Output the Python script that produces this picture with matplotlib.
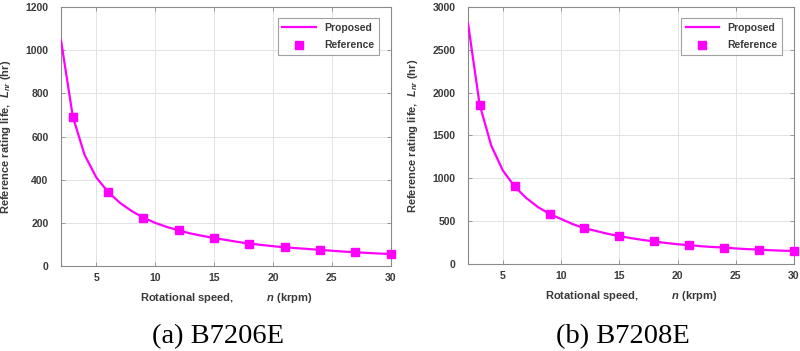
import numpy as np
import matplotlib
matplotlib.use("Agg")
import matplotlib.pyplot as plt

plt.rcParams['font.family'] = ['Liberation Sans', 'DejaVu Sans']
plt.rcParams['mathtext.fontset'] = 'custom'
plt.rcParams['mathtext.rm'] = 'Liberation Sans:bold'
plt.rcParams['mathtext.it'] = 'Liberation Sans:italic:bold'

# kecepatan putar (krpm)
n_proposed = list(range(2, 31))
n_reference = [3, 6, 9, 12, 15, 18, 21, 24, 27, 30]

# B7206E
life_a_proposed = [1045, 692, 515, 410, 343, 293, 255, 224, 200, 181, 165, 151, 140, 130,
                   121, 112, 104, 98, 92, 87, 83, 79, 75, 71, 67, 64, 61, 58, 56]
life_a_reference = [692, 343, 224, 165, 130, 104, 87, 74, 64, 56]

# B7208E
life_b_proposed = [2810, 1860, 1380, 1090, 905, 770, 665, 585, 525, 465, 418, 385, 352, 325,
                   302, 280, 263, 245, 230, 220, 207, 198, 192, 181, 173, 168, 160, 155, 152]
life_b_reference = [1860, 905, 585, 418, 325, 263, 220, 192, 168, 152]

xticks = [5, 10, 15, 20, 25, 30]
yticks_a = [0, 200, 400, 600, 800, 1000, 1200]
yticks_b = [0, 500, 1000, 1500, 2000, 2500, 3000]

txt = '#3a3a3a'
magenta = '#ff00ff'

fig = plt.figure(figsize=(8, 3.51), dpi=100)
ax1 = fig.add_axes([0.0763, 0.242, 0.412, 0.738])
ax2 = fig.add_axes([0.585, 0.248, 0.4075, 0.732])

panels = [(ax1, life_a_proposed, life_a_reference, yticks_a, '(a) B7206E', 0.272),
          (ax2, life_b_proposed, life_b_reference, yticks_b, '(b) B7208E', 0.778)]

for ax, prop, ref, yt, caption, cx in panels:
    ax.plot(n_proposed, prop, color=magenta, lw=1.6, label='Proposed', zorder=3)
    ax.plot(n_reference, ref, ls='none', marker='s', ms=5.5, color=magenta,
            label='Reference', zorder=4, clip_on=False)
    ax.set_xlim(2, 30)
    ax.set_ylim(yt[0], yt[-1])
    ax.set_xticks(xticks)
    ax.set_yticks(yt)
    ax.grid(True, color='#e3e3e3', lw=0.7)
    ax.set_axisbelow(True)
    for s in ax.spines.values():
        s.set_color('#8a8a8a')
        s.set_linewidth(0.8)
    ax.tick_params(direction='in', length=3, width=0.6, color='#8a8a8a',
                   top=True, right=True, labelsize=7.5, labelcolor=txt)
    ax.tick_params(axis='x', pad=5)
    ax.tick_params(axis='y', pad=9)
    for lab in ax.get_xticklabels() + ax.get_yticklabels():
        lab.set_fontweight('bold')
    ax.set_xlabel('Rotational speed,           $n$ (krpm)', fontsize=8, fontweight='bold',
                  color=txt, labelpad=6)
    ax.set_ylabel('Reference rating life,  $L_{nr}$ (hr)', fontsize=8, fontweight='bold',
                  color=txt, labelpad=9)
    leg = ax.legend(loc='upper right', fontsize=7.5, frameon=True, fancybox=False,
                    edgecolor='#8a8a8a', borderpad=0.45, handlelength=3.2,
                    labelspacing=0.75, bbox_to_anchor=(0.98, 0.978))
    leg.get_frame().set_linewidth(0.8)
    for t in leg.get_texts():
        t.set_fontweight('bold')
        t.set_color(txt)
    fig.text(cx, 0.04, caption, ha='center', va='center', fontsize=20.5,
             family='Liberation Serif', color='black')

fig.savefig('out.png', dpi=100)
